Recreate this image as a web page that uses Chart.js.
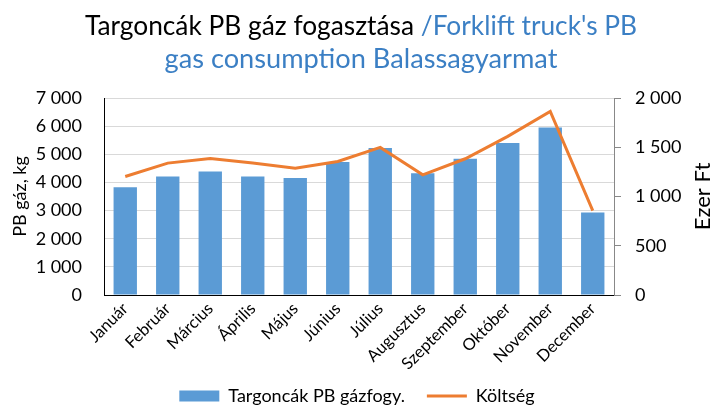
<!DOCTYPE html>
<html>
<head>
<meta charset="utf-8">
<script src="https://cdn.jsdelivr.net/npm/chart.js@4"></script>
<style>
  body { margin: 0; background: #fff; }
  #wrap { position: relative; width: 714px; height: 405px; }
  .linea {
    position: absolute; left: 0; width: 722px; text-align: center; white-space: nowrap;
    font-family: Lato, "Open Sans", sans-serif; font-size: 26.3px; line-height: 30px; color: #000;
  }
  .azul { color: #3b7fc4; }
</style>
</head>
<body>
<div id="wrap">
  <div class="linea" style="top:10px">Targoncák PB gáz fogasztása <span class="azul">/Forklift truck's PB</span></div>
  <div class="linea azul" style="top:43px; font-size:27.2px">gas consumption Balassagyarmat</div>
  <canvas id="grafico" width="714" height="405"></canvas>
</div>
<script>
const meses = ['Január', 'Február', 'Március', 'Április', 'Május', 'Június', 'Július', 'Augusztus', 'Szeptember', 'Október', 'November', 'December'];
const gazfogy = [3830, 4210, 4390, 4210, 4160, 4730, 5220, 4330, 4840, 5400, 5950, 2930];
const koltseg = [1203, 1339, 1386, 1340, 1288, 1356, 1498, 1220, 1383, 1610, 1864, 857];

const fuente = 'Lato, "Open Sans", sans-serif';
const altoLeyenda = 22;

function miles(v) {
    return String(v).replace(/\B(?=(\d{3})+(?!\d))/g, ' ');
}

// titulo del eje derecho, leido de abajo hacia arriba como en Excel
const tituloDerecho = {
    id: 'tituloDerecho',
    afterDraw(chart) {
        const ctx = chart.ctx;
        const area = chart.chartArea;
        ctx.save();
        ctx.translate(703, (area.top + area.bottom) / 2);
        ctx.rotate(-Math.PI / 2);
        ctx.fillStyle = '#000';
        ctx.font = '22px ' + fuente;
        ctx.textAlign = 'center';
        ctx.textBaseline = 'middle';
        ctx.fillText('Ezer Ft', 0, 0);
        ctx.restore();
    }
};

// la leyenda ocupa poco alto para que las etiquetas del eje x quepan
const leyendaCompacta = {
    id: 'leyendaCompacta',
    beforeLayout(chart) {
        const ley = chart.legend;
        if (ley && !ley._parcheado) {
            const fitOriginal = ley.fit;
            ley.fit = function () {
                fitOriginal.call(this);
                this.height = altoLeyenda;
            };
            ley._parcheado = true;
        }
    },
    afterLayout(chart) {
        const ley = chart.legend;
        ley.top = 365;
        ley.bottom = 405;
        ley.adjustHitBoxes();
    }
};

new Chart(document.getElementById('grafico'), {
    type: 'bar',
    data: {
        labels: meses,
        datasets: [{
            type: 'line',
            label: 'Költség',
            data: koltseg,
            yAxisID: 'y2',
            borderColor: '#ed7d31',
            backgroundColor: '#ed7d31',
            borderWidth: 3,
            pointRadius: 0,
            tension: 0,
            pointStyle: 'line',
            order: 0
        }, {
            label: 'Targoncák PB gázfogy.',
            data: gazfogy,
            yAxisID: 'y',
            backgroundColor: '#5b9bd5',
            barPercentage: 0.55,
            categoryPercentage: 1,
            pointStyle: 'rect',
            order: 1
        }]
    },
    options: {
        responsive: false,
        animation: false,
        layout: { padding: { top: 98, left: 0, right: 0, bottom: 0 } },
        plugins: {
            legend: {
                position: 'bottom',
                reverse: true,
                labels: {
                    usePointStyle: true,
                    pointStyleWidth: 40,
                    boxHeight: 11,
                    padding: 22,
                    color: '#000',
                    font: { family: fuente, size: 18 }
                }
            },
            tooltip: { enabled: false }
        },
        scales: {
            x: {
                grid: { display: false, drawTicks: false },
                border: { color: '#000', width: 1 },
                afterFit: s => { s.height = 405 - 98 - 197 - altoLeyenda; },
                ticks: {
                    color: '#000',
                    maxRotation: 45,
                    minRotation: 45,
                    padding: 4,
                    font: { family: fuente, size: 16.5 }
                }
            },
            y: {
                position: 'left',
                min: 0,
                max: 7000,
                afterFit: s => { s.width = 104; },
                grid: { color: '#d9d9d9', drawTicks: false },
                border: { color: '#000', width: 1 },
                title: { display: true, text: 'PB gáz, kg', color: '#000', font: { family: fuente, size: 18 }, padding: 9 },
                ticks: {
                    stepSize: 1000,
                    color: '#000',
                    padding: 22,
                    font: { family: fuente, size: 18 },
                    callback: v => miles(v)
                }
            },
            y2: {
                position: 'right',
                min: 0,
                max: 2000,
                afterFit: s => { s.width = 100; },
                grid: { drawOnChartArea: false, drawTicks: true, tickLength: 7, color: '#888' },
                border: { color: '#888', width: 1 },
                ticks: {
                    stepSize: 500,
                    color: '#000',
                    padding: 14,
                    font: { family: fuente, size: 18 },
                    callback: v => miles(v)
                }
            }
        }
    },
    plugins: [tituloDerecho, leyendaCompacta]
});
</script>
</body>
</html>
